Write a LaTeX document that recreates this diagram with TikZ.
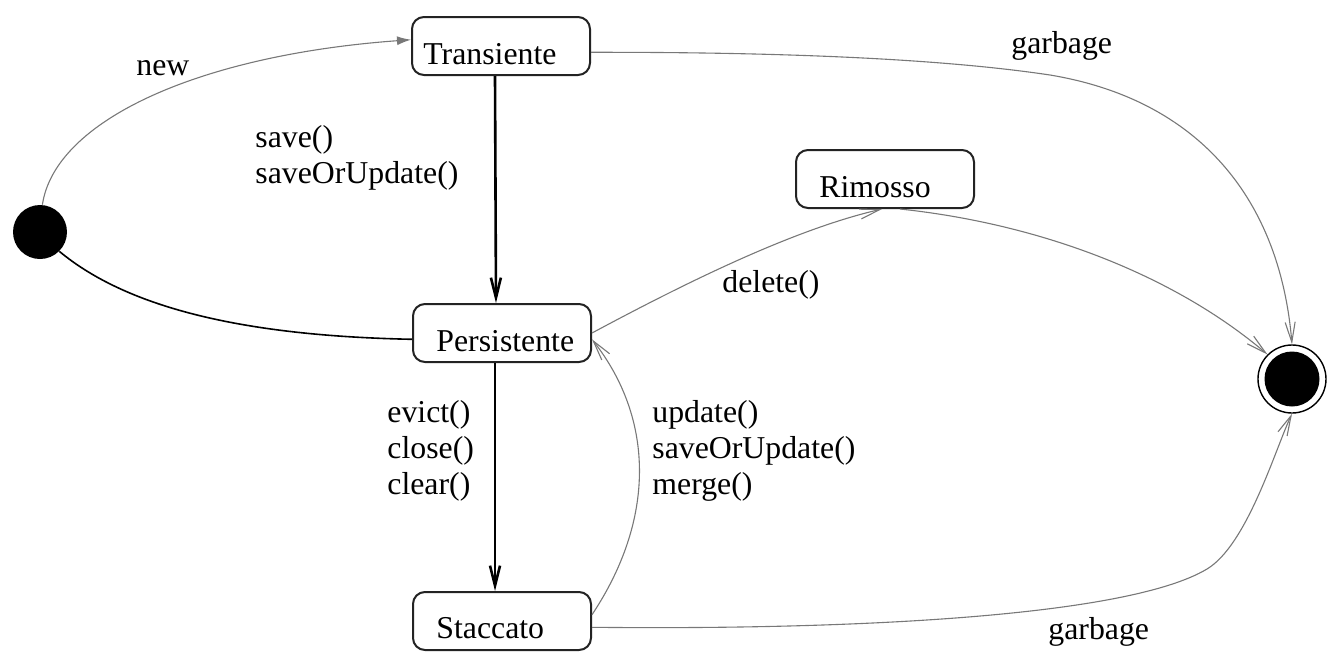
\documentclass[tikz,border=0pt]{standalone}
\usepackage{fontspec}
\setmainfont{Liberation Serif}
\usetikzlibrary{arrows.meta,calc}
\definecolor{edgegray}{RGB}{120,120,120}
\definecolor{boxline}{RGB}{35,35,35}
\begin{document}
\begin{tikzpicture}[x=0.5pt,y=-0.5pt,
  every node/.style={font=\fontsize{15.9}{18}\selectfont},
  statebox/.style={draw=boxline,line width=1pt,rounded corners=6pt,minimum width=89pt,minimum height=29pt,inner sep=0pt},
  txt/.style={inner sep=0pt,anchor=base west},
  multi/.style={inner sep=0pt,anchor=north west,align=left},
  thinedge/.style={draw=edgegray,line width=0.55pt},
  thickedge/.style={draw=black,line width=1.3pt},
  openhead/.style={-{Straight Barb[length=10pt,width=5pt]}},
  fillhead/.style={-{Latex[length=7pt,width=4.5pt]}}
]
\useasboundingbox (0,0) rectangle (1335,671);

% states
\node[statebox] (T) at (501,46) {};
\node[statebox] (P) at (502,333) {};
\node[statebox] (S) at (502,621) {};
\node[statebox] (R) at (885,179) {};
\node[circle,fill=black,minimum size=27pt,inner sep=0pt] (I) at (40,232) {};
\node[circle,draw=black,line width=0.7pt,minimum size=34pt,inner sep=0pt] (F) at (1292,379) {};
\node[circle,fill=black,minimum size=27.5pt,inner sep=0pt] (Fi) at (F.center) {};

% state names
\node[txt] (Tt) at (423,64) {Transiente};
\node[txt] (Pt) at (436,351) {Persistente};
\node[txt] (St) at (436,638) {Staccato};
\node[txt] (Rt) at (819,197) {Rimosso};

% transitions
\draw[thinedge,fillhead] (I.85) .. controls (55,120) and (200,55) .. (T.176);
\draw[thickedge,openhead] ($(T.south)+(-6,0)$) -- ($(P.north)+(-6,0)$);
\draw[draw=black,line width=0.8pt] (I.-45) .. controls (130,310) and (250,336) .. (P.184);
\draw[thickedge,openhead] ($(P.south)+(-7,0)$) -- ($(S.north)+(-7,0)$);
\draw[thinedge,openhead] (S.4) .. controls (655,520) and (655,420) .. (P.-4);
\draw[thinedge,openhead] (P.east) .. controls (700,275) and (800,228) .. ($(R.south)+(-3,0)$);
\draw[thinedge,openhead] ($(R.south)+(15,0)$) .. controls (1050,225) and (1180,280) .. (F.135);
\coordinate (g1) at (1050,75);
\draw[thinedge,openhead] (T.-4) .. controls (800,52) and (950,60) .. (g1) .. controls (1200,100) and (1280,200) .. (F.north);
\coordinate (g2) at (1207,569);
\draw[thinedge,openhead] (S.-4) .. controls (850,630) and (1127,617) .. (g2) .. controls (1247,545) and (1275,450) .. (F.south);

% labels
\node[txt] (lnew) at (136,75) {new};
\node[multi] (lsave) at (255,122) {\strut save()\\saveOrUpdate()};
\node[multi] (levict) at (387,397) {\strut evict()\\close()\\clear()};
\node[multi] (lupd) at (652,397) {\strut update()\\saveOrUpdate()\\merge()};
\node[txt] (ldel) at (722,292) {delete()};
\node[txt] (lg1) at (1011,53) {garbage};
\node[txt] (lg2) at (1048,639) {garbage};
\end{tikzpicture}
\end{document}
